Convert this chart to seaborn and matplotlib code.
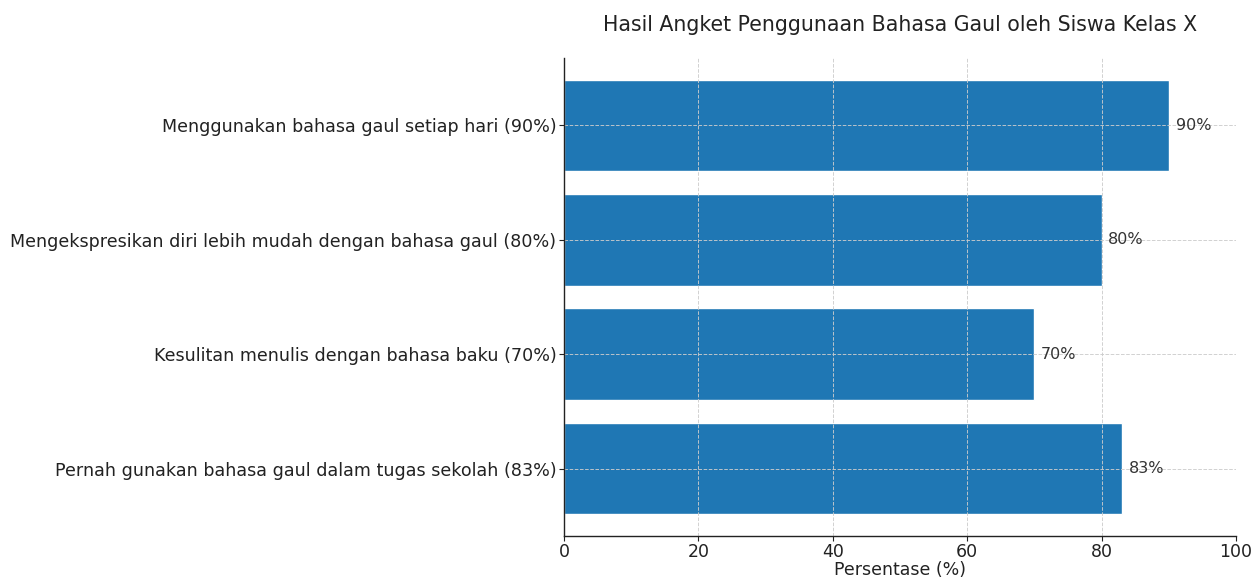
import matplotlib
matplotlib.use("Agg")
import matplotlib.pyplot as plt
import seaborn as sns
import pandas as pd

categories = [
    "Menggunakan bahasa gaul setiap hari (90%)",
    "Mengekspresikan diri lebih mudah dengan bahasa gaul (80%)",
    "Kesulitan menulis dengan bahasa baku (70%)",
    "Pernah gunakan bahasa gaul dalam tugas sekolah (83%)",
]
values = [90, 80, 70, 83]
title = "Hasil Angket Penggunaan Bahasa Gaul oleh Siswa Kelas X"
xlabel = "Persentase (%)"

df = pd.DataFrame({"cat": categories, "val": values})

sns.set_style("white")
plt.rcParams["font.family"] = ["DejaVu Sans"]

fig = plt.figure(figsize=(12.52, 5.78), dpi=100)
ax = fig.add_axes([564/1252, 1 - 536/578, (1236-564)/1252, (536-58)/578])
sns.barplot(data=df, x="val", y="cat", orient="h", color="#1f77b4",
            saturation=1, width=0.8, ax=ax)
ax.set_xlim(0, 100)
ax.set_ylim(3.59, -0.59)
ax.grid(True, linestyle="--", linewidth=0.7, color="#cccccc", alpha=0.9)
ax.set_axisbelow(False)
for s in ["top", "right"]:
    ax.spines[s].set_visible(False)
for s in ["left", "bottom"]:
    ax.spines[s].set_color("#222222")
    ax.spines[s].set_linewidth(1.0)
    ax.spines[s].set_zorder(5)
ax.tick_params(axis="both", which="both", length=3.5, width=0.8, colors="#222222", left=True, bottom=True)
ax.tick_params(axis="y", labelsize=12.65, pad=2)
ax.tick_params(axis="x", labelsize=12.5, pad=1.5)
for i, v in enumerate(values):
    ax.text(v + 1, i, f"{v}%", va="center", ha="left", fontsize=11.5, color="#333333")
ax.set_ylabel("")
ax.set_xlabel(xlabel, fontsize=12.5, labelpad=0, color="#222222")
ax.set_title(title, fontsize=14.8, pad=19.5, color="#222222")
fig.savefig("out.png", dpi=100)
